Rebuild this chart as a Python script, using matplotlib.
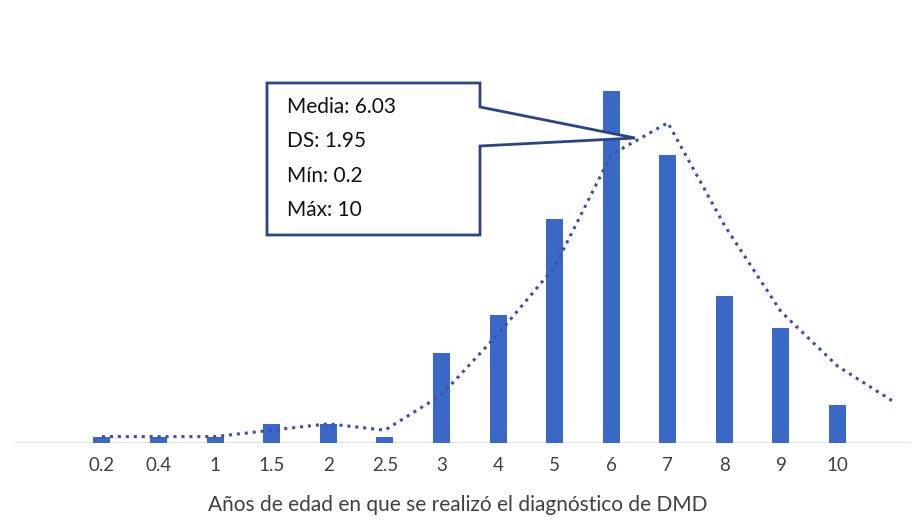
import matplotlib
matplotlib.use("Agg")
import matplotlib.pyplot as plt
from matplotlib.patches import Polygon
import numpy as np

plt.rcParams['font.family'] = ['Lato', 'DejaVu Sans']

categories = ["0.2", "0.4", "1", "1.5", "2", "2.5", "3", "4", "5", "6", "7", "8", "9", "10"]
counts = [1, 1, 1, 3, 3, 1, 14, 20, 35, 55, 45, 23, 18, 6]
# dotted trend line values (one extra point beyond the last category)
trend = [1, 1, 1, 2, 3, 2, 7.5, 17, 27.5, 45, 50, 34, 20.5, 12, 6.4]
stats_lines = ["Media: 6.03", "DS: 1.95", "Mín: 0.2", "Máx: 10"]
xlabel = "Años de edad en que se realizó el diagnóstico de DMD"

W, H = 914, 520
fig = plt.figure(figsize=(W / 100, H / 100), dpi=100)
fig.patch.set_facecolor("white")

def fx(px):
    return px / W

def fy(py):
    return 1 - py / H

ax = fig.add_axes([fx(15), fy(443), fx(910) - fx(15), fy(10) - fy(443)])
x = np.arange(len(categories))
ax.bar(x, counts, width=0.3, color="#3A68C6", zorder=2)
xt = np.arange(len(trend))
ax.plot(xt, trend, linestyle=(0, (1, 1.6)), color="#3D50A8", lw=2.2, zorder=3)

ax.set_xlim(-1.537, 14.28)
ax.set_ylim(0, 67.6)
for s in ax.spines.values():
    s.set_visible(False)
ax.axhline(0, color="#D9D9D9", lw=1.2, zorder=1)
ax.set_yticks([])
ax.set_xticks(x)
ax.set_xticklabels(categories, fontsize=13.5, color="#404040")
ax.tick_params(axis="x", length=0, pad=10)
ax.set_facecolor("white")

fig.text(fx(458), fy(505), xlabel, ha="center", va="center", fontsize=15, color="#404040")

# callout box with wedge
box_pts = [(267, 83), (480, 83), (480, 107), (635, 138), (480, 146), (480, 235), (267, 235)]
poly = Polygon([(fx(px), fy(py)) for px, py in box_pts], closed=True,
               transform=fig.transFigure, facecolor="white", edgecolor="#2A4488",
               lw=2, zorder=10)
fig.patches.append(poly)
for i, line in enumerate(stats_lines):
    fig.text(fx(287), fy(107 + 34.3 * i), line, ha="left", va="center",
             fontsize=15, color="#111111", zorder=11)

fig.savefig("out.png", dpi=100, facecolor="white")
